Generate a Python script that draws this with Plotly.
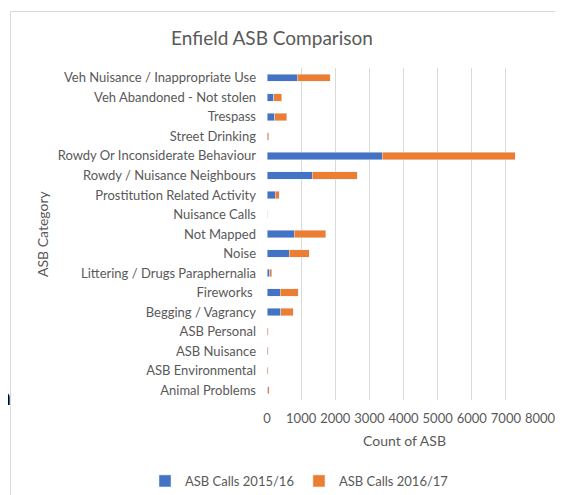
import plotly.graph_objects as go

categories = [
    'Veh Nuisance / Inappropriate Use', 'Veh Abandoned - Not stolen', 'Trespass',
    'Street Drinking', 'Rowdy Or Inconsiderate Behaviour', 'Rowdy / Nuisance Neighbours',
    'Prostitution Related Activity', 'Nuisance Calls', 'Not Mapped', 'Noise',
    'Littering / Drugs Paraphernalia', 'Fireworks ', 'Begging / Vagrancy',
    'ASB Personal', 'ASB Nuisance', 'ASB Environmental', 'Animal Problems',
]
calls_2015 = [885, 195, 220, 12, 3370, 1330, 240, 0, 800, 645, 75, 385, 410, 8, 8, 6, 20]
calls_2016 = [975, 240, 358, 45, 3900, 1320, 125, 0, 915, 587, 70, 530, 360, 22, 22, 24, 45]
x_ticks = [0, 1000, 2000, 3000, 4000, 5000, 6000, 7000, 8000]

OFF = 8  # page margin around the figure
W, H = 563 - OFF, 495 - OFF
# plot area, in figure pixels
L, R, T, B = 267 - OFF, 540 - OFF, 68 - OFF, 400 - OFF


def px(x):
    # screen x -> paper x
    return (x - OFF - L) / (R - L)


def py(y):
    # screen y -> paper y
    return (B - (y - OFF)) / (B - T)


font = 'Lato, Open Sans, sans-serif'
grey = '#595959'

fig = go.Figure()
fig.add_trace(go.Bar(y=categories, x=calls_2015, orientation='h', name='ASB Calls 2015/16',
                     marker_color='#4472C4', width=0.38))
fig.add_trace(go.Bar(y=categories, x=calls_2016, orientation='h', name='ASB Calls 2016/17',
                     marker_color='#ED7D31', width=0.38))

fig.update_layout(
    width=W, height=H,
    barmode='stack',
    plot_bgcolor='white', paper_bgcolor='white',
    margin=dict(l=L, r=W - R, t=T, b=H - B, autoexpand=False),
    font=dict(family=font, size=13, color=grey),
    title=dict(text='Enfield ASB Comparison', x=(272 - OFF) / W, xref='container',
               xanchor='center', y=1 - (38 - OFF) / H, yref='container', yanchor='middle',
               font=dict(size=19, color=grey, family=font)),
    xaxis=dict(range=[0, 8000], tickvals=x_ticks, showgrid=True, gridcolor='#d9d9d9',
               gridwidth=1, zeroline=False, showline=False, ticklabelstandoff=9,
               tickfont=dict(size=13, color=grey)),
    yaxis=dict(range=[16.5, -0.5], showgrid=False, zeroline=False, showline=False,
               ticklabelstandoff=10, tickfont=dict(size=13, color=grey)),
    legend=dict(orientation='h', x=px(145), xanchor='left', y=py(481), yanchor='middle',
                font=dict(size=13, color=grey), itemwidth=30, traceorder='normal'),
    shapes=[dict(type='rect', xref='paper', yref='paper', x0=px(10.5), x1=px(620),
                 y0=py(560), y1=py(11.5), line=dict(color='#d9d9d9', width=1),
                 layer='below')],
    annotations=[
        dict(text='ASB Category', xref='paper', yref='paper', x=px(42), y=py(234),
             xanchor='center', yanchor='middle', textangle=-90, showarrow=False,
             font=dict(size=14, color=grey)),
        dict(text='Count of ASB', xref='paper', yref='paper', x=px(404), y=py(440),
             xanchor='center', yanchor='middle', showarrow=False,
             font=dict(size=14, color=grey)),
        dict(text='m', xref='paper', yref='paper', x=px(13), y=py(397), xanchor='right',
             yanchor='middle', showarrow=False,
             font=dict(size=22, color='black', family='DejaVu Sans')),
    ],
)

fig.write_html('out.html')
